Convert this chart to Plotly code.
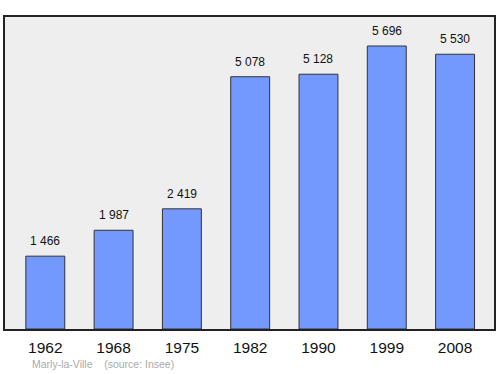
import plotly.graph_objects as go

years = ["1962", "1968", "1975", "1982", "1990", "1999", "2008"]
population = [1466, 1987, 2419, 5078, 5128, 5696, 5530]
labels = ["1 466", "1 987", "2 419", "5 078", "5 128", "5 696", "5 530"]

fig = go.Figure()
fig.add_trace(go.Bar(
    x=years, y=population, width=0.57,
    marker=dict(color="#7399ff", line=dict(color="#333333", width=1)),
    hoverinfo="skip",
))

for i, (v, lab) in enumerate(zip(population, labels)):
    fig.add_annotation(x=i, y=v, xref="x", yref="y", text=lab, showarrow=False, yanchor="bottom",
                       yshift=6, font=dict(family="Liberation Sans, Arial", size=12, color="#111111"))

fig.add_annotation(xref="paper", yref="paper", x=0.051, y=-0.112, xanchor="left", yanchor="middle",
                   text="Marly-la-Ville&nbsp;&nbsp;&nbsp;&nbsp;(source: Insee)", showarrow=False,
                   font=dict(family="Liberation Sans, Arial", size=10.5, color="#aaaaaa"))

fig.update_layout(
    width=500, height=374,
    margin=dict(l=5, r=6, t=17, b=45),
    paper_bgcolor="white", plot_bgcolor="#eeeeee",
    showlegend=False,
    xaxis=dict(type="category", range=[-0.59, 6.57], showline=True, mirror=True,
               linecolor="#222222", linewidth=1.5, showgrid=False,
               ticks="outside", ticklen=4, tickcolor="rgba(0,0,0,0)",
               tickfont=dict(family="Liberation Sans, Arial", size=15.5, color="#111111")),
    yaxis=dict(range=[0, 6280], showline=True, mirror=True, linecolor="#222222", linewidth=1.5,
               showgrid=False, zeroline=False, showticklabels=False, ticks=""),
)

fig.write_html("out.html")
